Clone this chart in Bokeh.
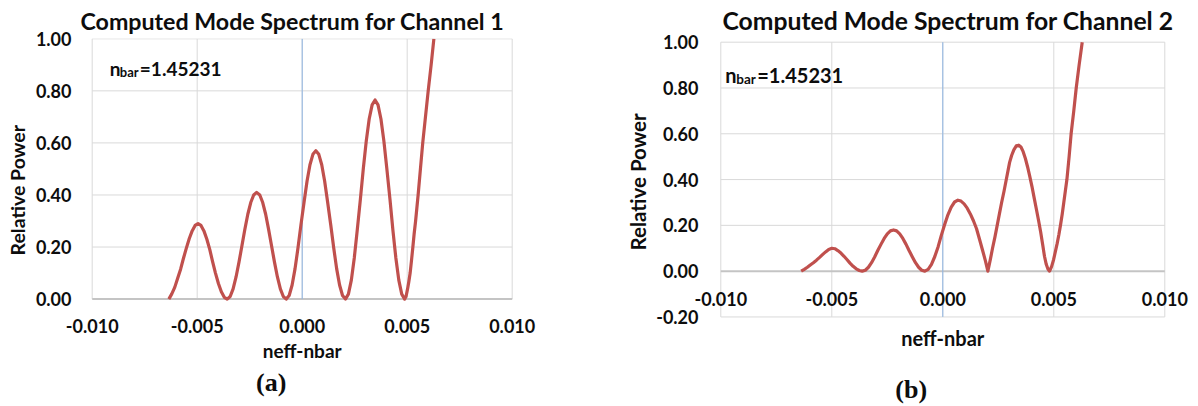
from bokeh.plotting import figure
from bokeh.models import Range1d, FixedTicker, PrintfTickFormatter, Label, Title
from bokeh.layouts import row
from bokeh.embed import file_html
from bokeh.resources import INLINE
from bokeh.core.properties import value

# ---------------- data ----------------
x_ticks = [-0.010, -0.005, 0.0, 0.005, 0.010]
x_tick_labels = ["-0.010", "-0.005", "0.000", "0.005", "0.010"]
y_ticks_a = [0.0, 0.2, 0.4, 0.6, 0.8, 1.0]
y_ticks_b = [-0.2, 0.0, 0.2, 0.4, 0.6, 0.8, 1.0]
x_axis_cross = 0.0            # horizontal axis crosses at y = 0
y_axis_cross = 0.0            # vertical axis (blue line) crosses at x = 0

title_a = "Computed Mode Spectrum for Channel 1"
title_b = "Computed Mode Spectrum for Channel 2"
x_title = "neff-nbar"
y_title = "Relative Power"
nbar_value = "=1.45231"

neff_a = [
    -0.00635, -0.00621, -0.00607, -0.00593, -0.00579, -0.00566, -0.00552, -0.00538, -0.00524, -0.00510,
    -0.00496, -0.00482, -0.00468, -0.00454, -0.00440, -0.00427, -0.00413, -0.00399, -0.00385, -0.00371,
    -0.00357, -0.00343, -0.00329, -0.00315, -0.00301, -0.00287, -0.00273, -0.00259, -0.00245, -0.00231,
    -0.00217, -0.00202, -0.00188, -0.00174, -0.00160, -0.00146, -0.00132, -0.00118, -0.00104, -0.00090,
    -0.00076, -0.00062, -0.00048, -0.00034, -0.00020, -0.00006, 0.00009, 0.00023, 0.00037, 0.00051,
    0.00065, 0.00079, 0.00093, 0.00107, 0.00121, 0.00136, 0.00150, 0.00164, 0.00178, 0.00192,
    0.00206, 0.00220, 0.00234, 0.00248, 0.00262, 0.00277, 0.00291, 0.00305, 0.00319, 0.00333,
    0.00347, 0.00361, 0.00375, 0.00389, 0.00403, 0.00418, 0.00432, 0.00446, 0.00460, 0.00474,
    0.00488, 0.00495, 0.00502, 0.00508, 0.00514, 0.00520, 0.00527, 0.00533, 0.00540, 0.00546,
    0.00552, 0.00563, 0.00574, 0.00587, 0.00600, 0.00614, 0.00627,
]
power_a = [
    0.000, 0.020, 0.045, 0.080, 0.115, 0.155, 0.195, 0.232, 0.262, 0.283,
    0.290, 0.283, 0.262, 0.230, 0.190, 0.145, 0.100, 0.060, 0.028, 0.007,
    0.000, 0.010, 0.039, 0.085, 0.142, 0.205, 0.268, 0.326, 0.371, 0.400,
    0.410, 0.400, 0.371, 0.326, 0.268, 0.205, 0.142, 0.085, 0.039, 0.010,
    0.000, 0.014, 0.054, 0.117, 0.197, 0.285, 0.373, 0.453, 0.516, 0.556,
    0.570, 0.556, 0.516, 0.453, 0.373, 0.285, 0.197, 0.117, 0.054, 0.014,
    0.000, 0.019, 0.073, 0.158, 0.264, 0.383, 0.501, 0.607, 0.692, 0.746,
    0.765, 0.746, 0.692, 0.607, 0.501, 0.383, 0.264, 0.158, 0.073, 0.019,
    0.000, 0.012, 0.040, 0.068, 0.100, 0.145, 0.200, 0.250, 0.300, 0.350,
    0.400, 0.500, 0.600, 0.700, 0.800, 0.900, 1.000,
]

neff_b = [
    -0.00638, -0.00624, -0.00610, -0.00597, -0.00583, -0.00569, -0.00555, -0.00542, -0.00528, -0.00514,
    -0.00500, -0.00486, -0.00473, -0.00459, -0.00445, -0.00431, -0.00418, -0.00404, -0.00390, -0.00376,
    -0.00363, -0.00349, -0.00335, -0.00321, -0.00307, -0.00293, -0.00278, -0.00264, -0.00250, -0.00236,
    -0.00222, -0.00208, -0.00194, -0.00180, -0.00166, -0.00152, -0.00137, -0.00123, -0.00109, -0.00095,
    -0.00081, -0.00066, -0.00051, -0.00036, -0.00021, -0.00007, 0.00008, 0.00023, 0.00038, 0.00053,
    0.00068, 0.00082, 0.00096, 0.00110, 0.00124, 0.00138, 0.00152, 0.00166, 0.00180, 0.00192,
    0.00203, 0.00214, 0.00224, 0.00235, 0.00245, 0.00255, 0.00265, 0.00276, 0.00286, 0.00294,
    0.00301, 0.00310, 0.00320, 0.00331, 0.00342, 0.00352, 0.00362, 0.00372, 0.00382, 0.00392,
    0.00402, 0.00412, 0.00422, 0.00432, 0.00441, 0.00450, 0.00458, 0.00466, 0.00474, 0.00481,
    0.00490, 0.00499, 0.00507, 0.00515, 0.00523, 0.00530, 0.00538, 0.00545, 0.00552, 0.00559,
    0.00569, 0.00578, 0.00590, 0.00601, 0.00614, 0.00628,
]
power_b = [
    0.000, 0.008, 0.017, 0.027, 0.037, 0.048, 0.060, 0.072, 0.084, 0.095,
    0.100, 0.098, 0.090, 0.079, 0.065, 0.050, 0.035, 0.021, 0.010, 0.003,
    0.000, 0.004, 0.017, 0.037, 0.062, 0.090, 0.118, 0.143, 0.163, 0.176,
    0.180, 0.176, 0.163, 0.143, 0.118, 0.090, 0.062, 0.037, 0.017, 0.004,
    0.000, 0.008, 0.030, 0.064, 0.107, 0.155, 0.203, 0.246, 0.280, 0.302,
    0.310, 0.306, 0.294, 0.275, 0.250, 0.220, 0.185, 0.137, 0.088, 0.045,
    0.000, 0.050, 0.100, 0.150, 0.200, 0.250, 0.300, 0.350, 0.400, 0.440,
    0.475, 0.505, 0.530, 0.547, 0.550, 0.542, 0.522, 0.492, 0.455, 0.413,
    0.368, 0.318, 0.268, 0.218, 0.170, 0.115, 0.065, 0.030, 0.008, 0.000,
    0.020, 0.050, 0.085, 0.120, 0.160, 0.200, 0.250, 0.300, 0.350, 0.400,
    0.500, 0.600, 0.700, 0.800, 0.900, 1.000,
]

# ---------------- styling ----------------
FONT = "Lato"
TXT = "#0d0d0d"
RED = "#c0504d"
GRID = "#d9d9d9"
AXIS = "#c4c4c4"
BLUE = "#8eb4e3"
TICK_FS = "18px"
H = 406
FRAME_TOP = 37       # both panels share the frame top; frames run to the canvas bottom


def make_panel(width, canvas_left, frame_l, frame_r, plot_l, plot_r, y_top_px, y_bot_px,
               y_ticks, ytick_standoff, tick_dy):
    """Frame larger than the plotted area, so texts under the plot stay inside it."""
    xs = (plot_r - plot_l) / (x_ticks[-1] - x_ticks[0])
    ys = (y_bot_px - y_top_px) / (y_ticks[-1] - y_ticks[0])
    x0 = x_ticks[0] - (plot_l - frame_l) / xs
    x1 = x_ticks[-1] + (frame_r - plot_r) / xs
    y1 = y_ticks[-1] + (y_top_px - FRAME_TOP) / ys
    y0 = y_ticks[0] - (H - y_bot_px) / ys
    p = figure(width=width, height=H, output_backend="svg", toolbar_location=None,
               x_range=Range1d(x0, x1), y_range=Range1d(y0, y1), x_axis_location=None,
               min_border_left=frame_l - canvas_left,
               min_border_right=canvas_left + width - frame_r,
               min_border_top=FRAME_TOP, min_border_bottom=0)
    p.outline_line_color = None
    p.xgrid.visible = False
    p.ygrid.visible = False
    ax = p.yaxis[0]
    ax.ticker = FixedTicker(ticks=y_ticks)
    ax.formatter = PrintfTickFormatter(format="%.2f")
    ax.major_tick_out = 0
    ax.major_tick_in = 0
    ax.minor_tick_out = 0
    ax.minor_tick_in = 0
    ax.axis_line_color = None
    ax.major_label_standoff = ytick_standoff
    ax.major_label_text_font = FONT
    ax.major_label_text_font_style = "bold"
    ax.major_label_text_font_size = TICK_FS
    ax.major_label_text_color = TXT

    ny = len(y_ticks)
    nx = len(x_ticks)
    # grid limited to the plotted area
    p.segment(x0=x_ticks, x1=x_ticks, y0=[y_ticks[0]] * nx, y1=[y_ticks[-1]] * nx,
              line_color=GRID, line_width=1)
    h_cols = [AXIS if t == x_axis_cross else GRID for t in y_ticks]
    h_w = [2 if t == x_axis_cross else 1 for t in y_ticks]
    p.segment(x0=[x_ticks[0]] * ny, x1=[x_ticks[-1]] * ny, y0=y_ticks, y1=y_ticks,
              line_color=h_cols, line_width=h_w)
    # vertical axis line at x = 0 (blue)
    p.segment(x0=[y_axis_cross], x1=[y_axis_cross], y0=[y_ticks[0]], y1=[y_ticks[-1]],
              line_color=BLUE, line_width=1)
    # x tick labels under the horizontal axis at y = 0
    p.text(x=x_ticks, y=[x_axis_cross] * nx, text=x_tick_labels,
           text_font=value(FONT), text_font_style="bold", text_font_size=value(TICK_FS),
           text_color=TXT, text_align="center", text_baseline="middle", y_offset=tick_dy)
    return p


def add_title(p, text, offset, size, standoff):
    p.add_layout(Title(text=text, align="left", offset=offset, standoff=standoff,
                       text_font=FONT, text_font_style="bold", text_font_size=size,
                       text_color=TXT), "above")


def add_ylabel(p, offset, standoff, size):
    p.add_layout(Title(text=y_title, align="left", offset=offset, standoff=standoff,
                       text_font=FONT, text_font_style="bold", text_font_size=size,
                       text_color=TXT), "left")


def add_xlabel(p, size, dy):
    p.add_layout(Label(text=x_title, x=y_axis_cross, y=x_axis_cross, y_offset=dy,
                       text_align="center", text_baseline="middle",
                       text_font=FONT, text_font_style="bold", text_font_size=size,
                       text_color=TXT))


def add_caption(p, text, sx, sy):
    p.add_layout(Label(text=text, x=sx, y=sy, x_units="screen", y_units="screen",
                       text_align="center", text_baseline="middle",
                       text_font="Liberation Serif", text_font_style="bold",
                       text_font_size="26px", text_color=TXT))


def add_nbar(p, x, y, big, small, off_sub, off_val):
    common = dict(x=x, y=y, text_font=FONT, text_font_style="bold",
                  text_color=TXT, text_baseline="alphabetic", text_align="left")
    p.add_layout(Label(text="n", text_font_size=big, x_offset=0, y_offset=0, **common))
    p.add_layout(Label(text="bar", text_font_size=small, x_offset=off_sub, y_offset=-4, **common))
    p.add_layout(Label(text=nbar_value, text_font_size=big, x_offset=off_val, y_offset=0, **common))


# ---------------- panel (a) ----------------
pa = make_panel(570, 0, 65, 537, 91.7, 511.7, 37.3, 298.3, y_ticks_a, -6, 27)
pa.line(neff_a, power_a, line_color=RED, line_width=3.2, line_join="round", line_cap="butt")
add_title(pa, title_a, 80 - 65, "23.2px", 8)
add_ylabel(pa, H - 255, 7, "19.5px")
add_xlabel(pa, "19px", -51)
add_caption(pa, "(a)", 270.7 - 65, H - 382)
add_nbar(pa, -0.00916, 0.887, "19px", "13px", 10, 30)

# ---------------- panel (b) ----------------
pb = make_panel(628, 570, 690, 1192, 720.3, 1164.3, 40.7, 316.2, y_ticks_b, -8, 28)
pb.line(neff_b, power_b, line_color=RED, line_width=3.2, line_join="round", line_cap="butt")
add_title(pb, title_b, 722 - 690, "24.7px", 7)
add_ylabel(pb, H - 250, 7, "20.5px")
add_xlabel(pb, "20px", -67)
add_caption(pb, "(b)", 910.7 - 690, H - 389)
add_nbar(pb, -0.0098, 0.855, "20px", "13.5px", 11, 32)

layout = row(pa, pb)
open("out.html", "w").write(file_html(layout, INLINE))
